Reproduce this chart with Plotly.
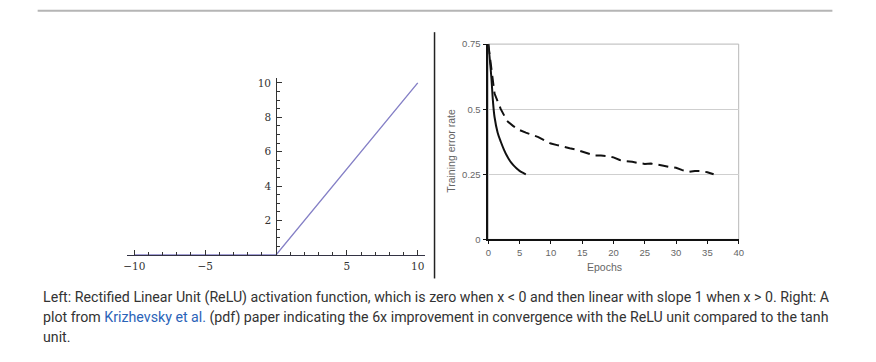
import plotly.graph_objects as go

# ---- Left panel: ReLU ----
relu_x = [-10, 0, 10]
relu_y = [0, 0, 10]
left_xticks = [-10, -5, 5, 10]
left_xticktext = ["\u221210", "\u22125", "5", "10"]
left_xminor = [-9, -8, -7, -6, -4, -3, -2, -1, 1, 2, 3, 4, 6, 7, 8, 9]
left_yticks = [2, 4, 6, 8, 10]
left_yticktext = ["2", "4", "6", "8", "10"]

# ---- Right panel: training error vs epochs ----
relu_epochs = [0, 0.25, 0.5, 0.75, 1, 1.5, 2, 2.5, 3, 3.5, 4, 4.5, 5, 5.5, 6]
relu_err = [0.75, 0.69, 0.62, 0.53, 0.47, 0.41, 0.375, 0.345, 0.32, 0.30, 0.285, 0.273, 0.263, 0.256, 0.25]
tanh_epochs = [0, 0.5, 1, 2, 3, 4, 5, 6, 7, 8, 9, 10, 11, 12, 13, 14, 15, 16, 17, 18, 19, 20,
               21, 22, 23, 24, 25, 26, 27, 28, 29, 30, 31, 32, 33, 34, 35, 36]
tanh_err = [0.75, 0.66, 0.56, 0.50, 0.455, 0.435, 0.42, 0.41, 0.402, 0.393, 0.38, 0.368, 0.362,
            0.355, 0.35, 0.345, 0.338, 0.33, 0.322, 0.322, 0.32, 0.315, 0.305, 0.30, 0.298, 0.293,
            0.29, 0.291, 0.288, 0.283, 0.278, 0.275, 0.266, 0.259, 0.263, 0.262, 0.258, 0.25]
right_xticks = [0, 5, 10, 15, 20, 25, 30, 35, 40]
right_yticks = [0, 0.25, 0.5, 0.75]
right_yticktext = ["0", "0.25", "0.5", "0.75"]

caption_lines = [
    "Left: Rectified Linear Unit (ReLU) activation function, which is zero when x &lt; 0 and then linear with slope 1 when x &gt; 0. Right: A",
    "plot from <span style='color:#2a63b8'>Krizhevsky et al.</span> (pdf) paper indicating the 6x improvement in convergence with the ReLU unit compared to the tanh",
    "unit.",
]

W, H = 876, 362
def px(x):
    return x / W
def py(y):
    return 1 - y / H

fig = go.Figure()

fig.add_trace(go.Scatter(x=relu_x, y=relu_y, mode="lines",
                         line=dict(color="#8580c6", width=1.4),
                         xaxis="x", yaxis="y", showlegend=False, hoverinfo="skip"))
fig.add_trace(go.Scatter(x=tanh_epochs, y=tanh_err, mode="lines",
                         line=dict(color="#111111", width=2, dash="10px,6px"),
                         xaxis="x2", yaxis="y2", showlegend=False, hoverinfo="skip"))
fig.add_trace(go.Scatter(x=relu_epochs, y=relu_err, mode="lines",
                         line=dict(color="#111111", width=2, shape="spline"),
                         xaxis="x2", yaxis="y2", showlegend=False, hoverinfo="skip"))

serif = dict(family="DejaVu Serif, Liberation Serif, serif", size=10.5, color="#333333")
sans = dict(family="Liberation Sans, Arial, sans-serif", size=9.5, color="#666666")

fig.update_layout(
    width=W, height=H,
    margin=dict(l=0, r=0, t=0, b=0),
    paper_bgcolor="white", plot_bgcolor="rgba(0,0,0,0)",
    xaxis=dict(domain=[px(124.5), px(425.2)], range=[-10.5, 10.5], anchor="y",
               showgrid=False, zeroline=False, showline=True, linecolor="#333344", linewidth=1,
               tickmode="array", tickvals=left_xticks, ticktext=left_xticktext,
               ticks="inside", ticklen=5, tickcolor="#333333", tickwidth=1,
               minor=dict(tickmode="array", tickvals=left_xminor, ticks="inside", ticklen=3,
                          tickcolor="#333333", showgrid=False),
               tickfont=serif, ticklabelstandoff=2, fixedrange=True),
    yaxis=dict(domain=[py(256.7), py(74)], range=[0, 10.3], anchor="free", position=px(275),
               showgrid=False, zeroline=False, showline=True, linecolor="#333333", linewidth=1,
               tickmode="array", tickvals=left_yticks, ticktext=left_yticktext,
               ticks="inside", ticklen=5, tickcolor="#333333", tickwidth=1,
               minor=dict(dtick=0.5, tick0=0, ticks="inside", ticklen=3,
                          tickcolor="#333333", showgrid=False),
               tickfont=serif, ticklabelstandoff=3, fixedrange=True),
    xaxis2=dict(domain=[px(489.3), px(742.3)], range=[0, 40], anchor="y2",
                showgrid=False, zeroline=False, showline=True, linecolor="#111111", linewidth=1.5,
                tickmode="array", tickvals=right_xticks,
                ticks="outside", ticklen=3, tickcolor="#111111",
                tickfont=sans, fixedrange=True),
    yaxis2=dict(domain=[py(240.7), py(39.3)], range=[0, 0.75], anchor="x2",
                showgrid=True, gridcolor="#cfcfcf", gridwidth=1, zeroline=False,
                showline=True, linecolor="#111111", linewidth=1.5,
                tickmode="array", tickvals=right_yticks, ticktext=right_yticktext,
                ticks="outside", ticklen=4, tickcolor="#111111",
                tickfont=sans, fixedrange=True),
)

# frame of right panel (top and right borders)
fig.add_shape(type="rect", xref="x2 domain", yref="y2 domain", x0=0, x1=1, y0=0, y1=1,
              line=dict(color="#b8b8b8", width=1), layer="below")

# top horizontal rule and vertical separator
fig.add_shape(type="line", xref="paper", yref="paper", x0=px(34), x1=px(837), y0=py(5), y1=py(5),
              line=dict(color="#b5b5b5", width=2))
fig.add_shape(type="line", xref="paper", yref="paper", x0=px(435), x1=px(435), y0=py(27), y1=py(281),
              line=dict(color="#222222", width=1.5))

# right panel titles
fig.add_annotation(text="Training error rate", xref="paper", yref="paper", x=px(452), y=py(149),
                   textangle=-90, showarrow=False, xanchor="center", yanchor="middle",
                   font=dict(family="Liberation Sans, Arial, sans-serif", size=10.5, color="#666666"))
fig.add_annotation(text="Epochs", xref="paper", yref="paper", x=px(607), y=py(269),
                   showarrow=False, xanchor="center", yanchor="middle",
                   font=dict(family="Liberation Sans, Arial, sans-serif", size=10.5, color="#666666"))

# caption
cap_y = [301, 321, 341]
for line, yc in zip(caption_lines, cap_y):
    fig.add_annotation(text=line, xref="paper", yref="paper", x=px(37), y=py(yc),
                       showarrow=False, xanchor="left", yanchor="middle", align="left",
                       font=dict(family="Roboto, sans-serif", size=14.2, color="#333333"))

fig.write_html("out.html", config={"displayModeBar": False},
               post_script="document.body.style.margin='0px';document.body.style.overflow='hidden';")
